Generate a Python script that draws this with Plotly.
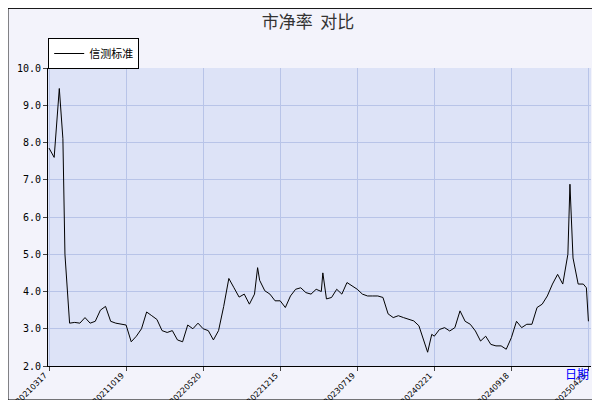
import plotly.graph_objects as go

# trading-day index (from 20210317) and P/B values
day_idx = [0, 10, 20, 27, 31, 40, 50, 60, 70, 80, 90, 100, 110, 120, 130, 140, 150, 160, 170,
           180, 190, 200, 210, 220, 230, 240, 250, 260, 270, 280, 290, 300, 310, 320, 330, 340,
           350, 360, 370, 380, 390, 400, 406, 410, 420, 430, 440, 450, 460, 470, 480, 490, 500,
           510, 520, 530, 533, 540, 550, 560, 570, 580, 590, 600, 610, 620, 630, 640, 650, 660,
           670, 680, 690, 700, 710, 720, 730, 737, 745, 750, 760, 770, 780, 790, 800, 810, 820,
           830, 840, 850, 860, 870, 880, 890, 900, 910, 920, 930, 940, 950, 960, 970, 980, 990,
           1000, 1010, 1014, 1020, 1030, 1040, 1046, 1050]
pb = [7.85, 7.6, 9.45, 8.1, 5.0, 3.15, 3.17, 3.15, 3.3, 3.15, 3.2, 3.5, 3.6, 3.2, 3.15, 3.12,
      3.1, 2.65, 2.8, 3.0, 3.45, 3.35, 3.25, 2.95, 2.9, 2.95, 2.7, 2.65, 3.1, 3.0, 3.15, 3.0,
      2.95, 2.7, 2.95, 3.6, 4.35, 4.1, 3.85, 3.93, 3.66, 3.93, 4.64, 4.3, 4.02, 3.93, 3.75,
      3.75, 3.57, 3.88, 4.06, 4.1, 3.97, 3.93, 4.06, 4.0, 4.5, 3.8, 3.84, 4.06, 3.93, 4.24,
      4.15, 4.06, 3.93, 3.88, 3.88, 3.88, 3.84, 3.4, 3.3, 3.35, 3.3, 3.26, 3.21, 3.08, 2.68,
      2.37, 2.85, 2.8, 2.98, 3.03, 2.94, 3.03, 3.48, 3.2, 3.12, 2.94, 2.67, 2.8, 2.58, 2.54,
      2.54, 2.45, 2.76, 3.2, 3.03, 3.12, 3.12, 3.57, 3.66, 3.88, 4.2, 4.46, 4.2, 5.0, 6.88,
      4.9, 4.2, 4.2, 4.1, 3.2]

tick_pos = [0, 150, 300, 450, 600, 750, 900, 1050]
tick_labels = ["20210317", "20211019", "20220520", "20221215", "20230719",
               "20240221", "20240918", "20250423"]

fig = go.Figure()
fig.add_trace(go.Scatter(x=day_idx, y=pb, mode="lines", name="信测标准",
                         line=dict(color="black", width=1)))

# rotated tick labels, right end anchored at the tick
notes = [dict(text=t, x=p, xref="x", y=0, yref="paper", xanchor="right", yanchor="top",
              textangle=-45, showarrow=False, yshift=-2, xshift=3,
              font=dict(family="DejaVu Sans", size=8))
         for p, t in zip(tick_pos, tick_labels)]
notes.append(dict(text="日期", xref="paper", yref="paper", x=1.0, y=-0.06,
                  showarrow=False, font=dict(color="blue", size=12)))

fig.update_layout(
    width=600, height=400,
    margin=dict(l=40, r=17, t=60, b=42, autoexpand=False),
    paper_bgcolor="#f3f3fb", plot_bgcolor="#dde3f7",
    font=dict(family="Noto Sans CJK SC", size=10, color="black"),
    title=dict(text="市净率  对比", x=0.5, xref="container", y=0.965, yref="container",
               xanchor="center", yanchor="middle", font=dict(size=17, color="#333")),
    showlegend=True,
    legend=dict(x=0.067, y=0.925, xref="container", yref="container",
                xanchor="left", yanchor="top", itemwidth=30,
                bgcolor="white", bordercolor="black", borderwidth=1,
                font=dict(size=11)),
    xaxis=dict(range=[-2, 1055], tickvals=tick_pos, showticklabels=False,
               showgrid=True, gridcolor="#b8c4e8",
               ticks="outside", ticklen=4, showline=True, linecolor="black",
               zeroline=False),
    yaxis=dict(range=[2, 10], dtick=1, tickformat=".1f", showgrid=True,
               gridcolor="#b8c4e8", ticks="outside", ticklen=4,
               showline=True, linecolor="black", zeroline=False,
               tickfont=dict(family="DejaVu Sans Mono", size=10)),
    shapes=[dict(type="rect", xref="paper", yref="paper", x0=-0.0737, x1=1.0166,
                 y0=-0.114, y1=1.2, line=dict(color="black", width=1))],
    annotations=notes,
)

fig.write_html("out.html")
